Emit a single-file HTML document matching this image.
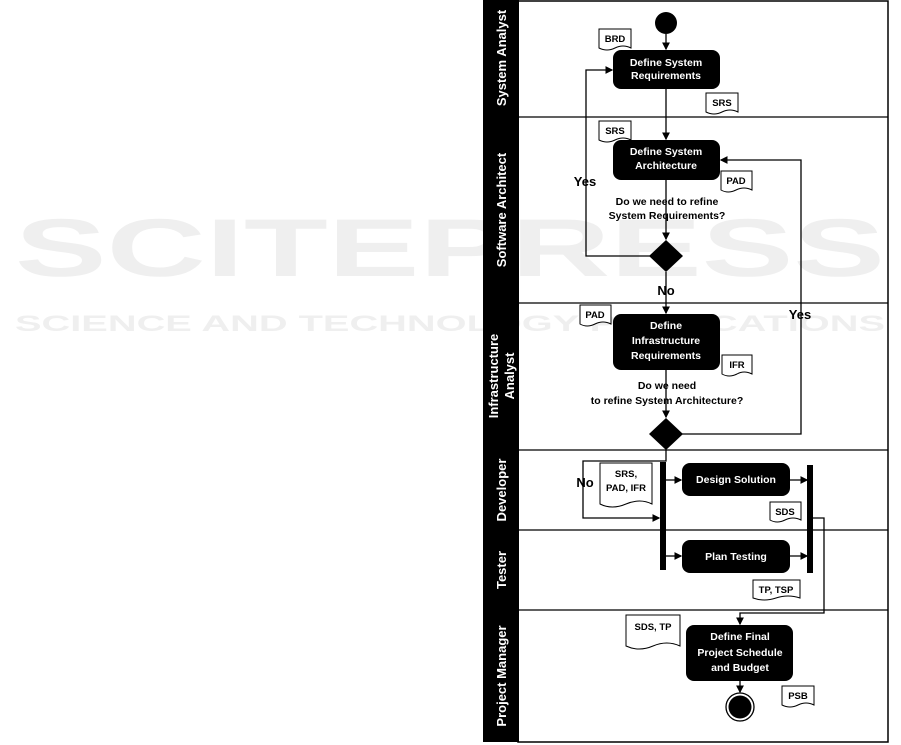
<!DOCTYPE html>
<html><head><meta charset="utf-8"><style>
html,body{margin:0;padding:0;background:#fff;}
svg{display:block;}
text{font-family:"Liberation Sans",sans-serif;}
.w{fill:#fff;font-weight:bold;font-size:10.5px;text-anchor:middle;}
.b{fill:#000;font-weight:bold;font-size:10.5px;text-anchor:middle;}
.d{fill:#000;font-weight:bold;font-size:9.5px;text-anchor:middle;}
.l{fill:#fff;font-weight:bold;font-size:13px;text-anchor:middle;}
.ln{stroke:#000;stroke-width:1.3;fill:none;}
</style></head><body>
<svg width="901" height="745" viewBox="0 0 901 745" xmlns="http://www.w3.org/2000/svg">
<defs><marker id="a" markerWidth="6" markerHeight="6" refX="5" refY="3" orient="auto"><path d="M0,0 L6,3 L0,6 z" fill="#000"/></marker></defs>
<!-- watermark -->
<g fill="#efefef" font-weight="bold">
<text x="15" y="276" font-size="82" textLength="870" lengthAdjust="spacingAndGlyphs" style="font-family:'Liberation Sans',sans-serif">SCITEPRESS</text>
<text x="15" y="331" font-size="22" textLength="870" lengthAdjust="spacingAndGlyphs" style="font-family:'Liberation Sans',sans-serif">SCIENCE AND TECHNOLOGY PUBLICATIONS</text>
</g>
<!-- frame -->
<rect x="483" y="0" width="36" height="742" fill="#000"/>
<rect x="518" y="1" width="370" height="741" fill="none" stroke="#000" stroke-width="1.5"/>
<g stroke="#000" stroke-width="1.3">
<line x1="518" y1="117" x2="888" y2="117"/><line x1="518" y1="303" x2="888" y2="303"/>
<line x1="518" y1="450" x2="888" y2="450"/><line x1="518" y1="530" x2="888" y2="530"/>
<line x1="518" y1="610" x2="888" y2="610"/></g>
<text class="l" transform="translate(506,58) rotate(-90)">System Analyst</text>
<text class="l" transform="translate(506,210) rotate(-90)">Software Architect</text>
<text class="l" transform="translate(498,376) rotate(-90)">Infrastructure</text>
<text class="l" transform="translate(514,376) rotate(-90)">Analyst</text>
<text class="l" transform="translate(506,490) rotate(-90)">Developer</text>
<text class="l" transform="translate(506,570) rotate(-90)">Tester</text>
<text class="l" transform="translate(506,676) rotate(-90)">Project Manager</text>
<!-- connectors -->
<circle cx="666" cy="23" r="11" fill="#000"/>
<line class="ln" x1="666" y1="34" x2="666" y2="49" marker-end="url(#a)"/>
<line class="ln" x1="666" y1="89" x2="666" y2="139" marker-end="url(#a)"/>
<line class="ln" x1="666" y1="180" x2="666" y2="239" marker-end="url(#a)"/>
<polyline class="ln" points="651,256 586,256 586,70 612,70" marker-end="url(#a)"/>
<line class="ln" x1="666" y1="272" x2="666" y2="313" marker-end="url(#a)"/>
<line class="ln" x1="666" y1="370" x2="666" y2="417" marker-end="url(#a)"/>
<polyline class="ln" points="682,434 801,434 801,160 721,160" marker-end="url(#a)"/>
<polyline class="ln" points="666,450 666,461 583,461 583,518 659,518" marker-end="url(#a)"/>
<line class="ln" x1="666" y1="480" x2="681" y2="480" marker-end="url(#a)"/>
<line class="ln" x1="666" y1="556" x2="681" y2="556" marker-end="url(#a)"/>
<line class="ln" x1="790" y1="480" x2="807" y2="480" marker-end="url(#a)"/>
<line class="ln" x1="790" y1="556" x2="807" y2="556" marker-end="url(#a)"/>
<polyline class="ln" points="812,518 824,518 824,613 740,613 740,624" marker-end="url(#a)"/>
<line class="ln" x1="740" y1="681" x2="740" y2="692" marker-end="url(#a)"/>
<circle cx="740" cy="707" r="14" fill="#fff" stroke="#000" stroke-width="1.3"/>
<circle cx="740" cy="707" r="11.5" fill="#000"/>
<!-- diamonds -->
<path d="M666,240 L683,256 L666,272 L649,256 z" fill="#000"/>
<path d="M666,418 L683,434 L666,450 L649,434 z" fill="#000"/>
<!-- bars -->
<rect x="660" y="462" width="6" height="108" fill="#000"/>
<rect x="807" y="465" width="6" height="108" fill="#000"/>
<!-- activities -->
<rect x="613" y="50" width="107" height="39" rx="8" fill="#000"/>
<text class="w" x="666" y="66">Define System</text><text class="w" x="666" y="79">Requirements</text>
<rect x="613" y="140" width="107" height="40" rx="8" fill="#000"/>
<text class="w" x="666" y="155">Define System</text><text class="w" x="666" y="169">Architecture</text>
<rect x="613" y="314" width="107" height="56" rx="8" fill="#000"/>
<text class="w" x="666" y="329">Define</text><text class="w" x="666" y="344">Infrastructure</text><text class="w" x="666" y="359">Requirements</text>
<rect x="682" y="463" width="108" height="33" rx="8" fill="#000"/>
<text class="w" x="736" y="483">Design Solution</text>
<rect x="682" y="540" width="108" height="33" rx="8" fill="#000"/>
<text class="w" x="736" y="560">Plan Testing</text>
<rect x="686" y="625" width="107" height="56" rx="8" fill="#000"/>
<text class="w" x="740" y="640">Define Final</text><text class="w" x="740" y="656">Project Schedule</text><text class="w" x="740" y="671">and Budget</text>
<!-- labels -->
<text class="b" x="667" y="205">Do we need to refine</text>
<text class="b" x="667" y="219">System Requirements?</text>
<text class="b" x="667" y="389">Do we need</text>
<text class="b" x="667" y="404">to refine System Architecture?</text>
<text class="b" x="585" y="186" style="font-size:13px">Yes</text>
<text class="b" x="666" y="295" style="font-size:13px">No</text>
<text class="b" x="800" y="319" style="font-size:13px">Yes</text>
<text class="b" x="585" y="487" style="font-size:13px">No</text>
<!-- documents -->
<g fill="#fff" stroke="#000" stroke-width="1">
<path d="M599,29 H631 V48 Q623,44 615,48 Q607,52 599,48 z"/>
<path d="M706,93 H738 V112 Q730,108 722,112 Q714,116 706,112 z"/>
<path d="M599,121 H631 V140 Q623,136 615,140 Q607,144 599,140 z"/>
<path d="M721,171 H752 V190 Q744,186 736,190 Q728,194 721,190 z"/>
<path d="M580,305 H611 V324 Q603,320 595,324 Q587,328 580,324 z"/>
<path d="M722,355 H752 V374 Q744,370 737,374 Q729,378 722,374 z"/>
<path d="M600,463 H652 V504 Q640,498 626,504 Q612,510 600,504 z"/>
<path d="M770,502 H801 V520 Q793,516 785,520 Q777,524 770,520 z"/>
<path d="M753,580 H800 V598 Q788,594 776,598 Q764,602 753,598 z"/>
<path d="M626,615 H680 V646 Q667,640 653,646 Q639,652 626,646 z"/>
<path d="M782,686 H814 V705 Q806,701 798,705 Q790,709 782,705 z"/>
</g>
<text class="d" x="615" y="42">BRD</text>
<text class="d" x="722" y="106">SRS</text>
<text class="d" x="615" y="134">SRS</text>
<text class="d" x="736" y="184">PAD</text>
<text class="d" x="595" y="318">PAD</text>
<text class="d" x="737" y="368">IFR</text>
<text class="d" x="626" y="477">SRS,</text>
<text class="d" x="626" y="491">PAD, IFR</text>
<text class="d" x="785" y="515">SDS</text>
<text class="d" x="776" y="593">TP, TSP</text>
<text class="d" x="653" y="630">SDS, TP</text>
<text class="d" x="798" y="699">PSB</text>
</svg>
</body></html>
